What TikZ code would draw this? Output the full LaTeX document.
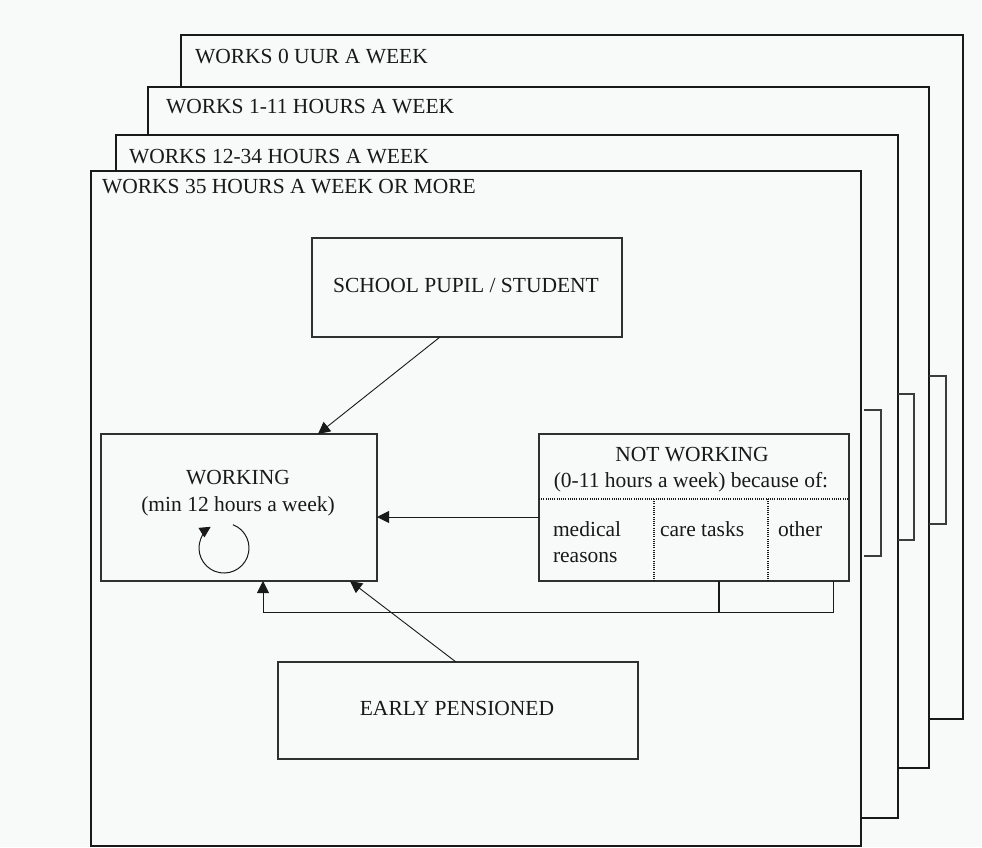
\documentclass[tikz,border=0pt]{standalone}
\usepackage{fontspec}
\setmainfont{Liberation Serif}
\usetikzlibrary{arrows.meta,calc}
\definecolor{bg}{RGB}{247,250,248}
\definecolor{ink}{RGB}{25,25,25}
\begin{document}
\begin{tikzpicture}[x=1pt,y=-1pt,
  every node/.style={font=\fontsize{21.5}{26}\selectfont, inner sep=0pt, outer sep=0pt, text=ink},
  framebox/.style={draw=ink, fill=bg, line width=1.1pt, anchor=north west},
  edge/.style={draw=ink, line width=2.6pt, line cap=rect},
  bottomedge/.style={draw=ink, line width=1.6pt},
  bracketline/.style={draw=ink!85, line width=1.2pt},
  box/.style={draw=ink!90, line width=1.2pt, fill=bg},
  conn/.style={draw=ink, line width=0.9pt, -{Triangle[length=12pt,width=12pt]}},
  plainline/.style={draw=ink, line width=1.1pt},
  cell/.style={draw=ink, line width=1.1pt, dash pattern=on 1pt off 1.2pt},
  lbl/.style={anchor=base west}]
\useasboundingbox (0,0) rectangle (982,847);
\fill[bg] (0,0) rectangle (982,847);

% stacked frames, back to front
\node[framebox, minimum width=782pt, minimum height=684pt] (f1) at (181,35) {};
\draw[edge] (f1.north east) -- (f1.south east);
\draw[bottomedge] (f1.south east) -- (f1.south west);
\node[lbl] (t1) at (195,63) {WORKS 0 UUR A WEEK};

\node[framebox, minimum width=781pt, minimum height=681pt] (f2) at (148,87) {};
\draw[edge] (f2.north east) -- (f2.south east);
\draw[bottomedge] (f2.south east) -- (f2.south west);
\node[lbl] (t2) at (166,113) {WORKS 1-11 HOURS A WEEK};

\node[framebox, minimum width=782pt, minimum height=683pt] (f3) at (116,135) {};
\draw[edge] (f3.north east) -- (f3.south east);
\node[lbl] (t3) at (129,163) {WORKS 12-34 HOURS A WEEK};

\node[framebox, minimum width=770pt, minimum height=675pt] (f4) at (91,171) {};
\draw[edge] (f4.north east) -- (f4.south east);
\draw[bottomedge] (f4.south east) -- (f4.south west);
\node[lbl] (t4) at (102,193) {WORKS 35 HOURS A WEEK OR MORE};

% brackets at the right
\draw[bracketline] (864,410) -- (881,410) -- (881,556) -- (864,556);
\draw[bracketline] (898,394) -- (914,394) -- (914,540) -- (898,540);
\draw[bracketline] (929,376) -- (946,376) -- (946,524) -- (929,524);

% boxes
\node[box, minimum width=310pt, minimum height=99pt] (school) at (467,287.5) {};
\node[anchor=base] (schooltxt) at (466,292) {SCHOOL PUPIL / STUDENT};

\node[box, minimum width=276pt, minimum height=147pt] (working) at (239,507.5) {};
\node[anchor=base] (worktxt1) at (238,484) {WORKING};
\node[anchor=base] (worktxt2) at (238,511) {(min 12 hours a week)};
\coordinate (cc) at (224,548);
\draw[draw=ink, line width=1pt, -{Triangle[length=11pt,width=11pt]}]
  ([shift={(69:25pt)}]cc) arc[start angle=69, end angle=-238, radius=25pt];

\node[box, minimum width=310pt, minimum height=147pt] (notw) at (694,507.5) {};
\node[anchor=base] (nwtxt1) at (692,461) {NOT WORKING};
\node[anchor=base] (nwtxt2) at (691,487) {(0-11 hours a week) because of:};
\coordinate (d1) at (654,499);
\coordinate (d2) at (768,499);
\draw[cell] ($(notw.north west)+(0,65)$) -- ($(notw.north east)+(0,65)$);
\draw[cell] (d1) -- (d1 |- notw.south);
\draw[cell] (d2) -- (d2 |- notw.south);
\node[lbl] (med1) at (553,536) {medical};
\node[lbl] (med2) at (553,562) {reasons};
\node[lbl] (care) at (660,536) {care tasks};
\node[lbl] (oth) at (778,536) {other};

\node[box, minimum width=360pt, minimum height=97pt] (early) at (458,710.5) {};
\node[anchor=base] (earlytxt) at (457,715) {EARLY PENSIONED};

% connectors
\draw[conn] ([xshift=-27pt]school.south) -- ([xshift=79pt]working.north);
\draw[conn] ([yshift=-9.5pt]notw.west) -- ([yshift=-9.5pt]working.east);
\draw[plainline] ([xshift=25pt]notw.south) -- ++(0,31);
\draw[conn] ([xshift=139pt]notw.south) -- ++(0,31) -| ([xshift=24pt]working.south);
\draw[conn] ([xshift=-2pt]early.north) -- ([xshift=111pt]working.south);
\end{tikzpicture}
\end{document}
